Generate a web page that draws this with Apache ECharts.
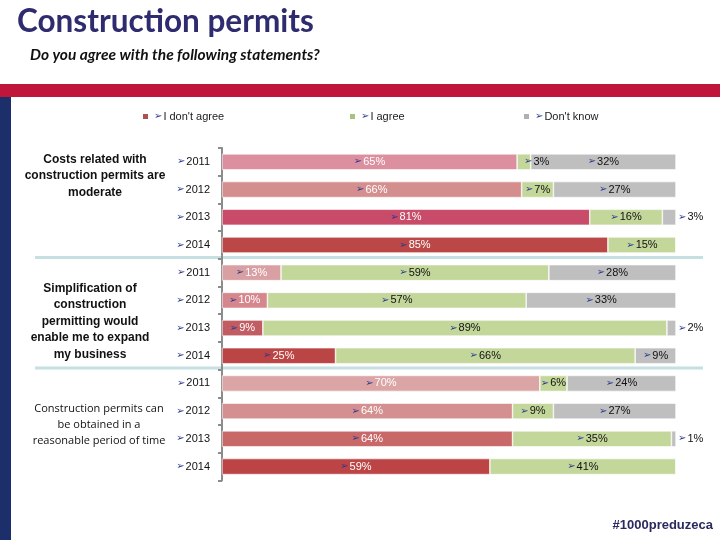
<!DOCTYPE html>
<html>
<head>
<meta charset="utf-8">
<script src="https://cdn.jsdelivr.net/npm/echarts@6/dist/echarts.min.js"></script>
<style>html,body{margin:0;padding:0;background:#fff}#c{width:720px;height:540px}</style>
</head>
<body>
<div id="c"></div>
<script>
const years = ['2011', '2012', '2013', '2014'];
const statements = [
  'Costs related with\nconstruction permits are\nmoderate',
  'Simplification of\nconstruction\npermitting would\nenable me to expand\nmy business',
  'Construction permits can\nbe obtained in a\nreasonable period of time'
];
const seriesNames = ["I don't agree", 'I agree', "Don't know"];
// values per statement group, per year
const disagree1 = [65, 66, 81, 85];
const agree1    = [3, 7, 16, 15];
const dontKnow1 = [32, 27, 3, 0];
const disagree2 = [13, 10, 9, 25];
const agree2    = [59, 57, 89, 66];
const dontKnow2 = [28, 33, 2, 9];
const disagree3 = [70, 64, 64, 59];
const agree3    = [6, 9, 35, 41];
const dontKnow3 = [24, 27, 1, 0];

const groups = [
  [disagree1, agree1, dontKnow1],
  [disagree2, agree2, dontKnow2],
  [disagree3, agree3, dontKnow3]
];

// styling (not data)
const redShades = [
  ['#dc8f9f', '#d48e8e', '#c84b69', '#bb4747'],
  ['#d9a0a3', '#d6878d', '#c05c62', '#bb4444'],
  ['#dba5a5', '#d49090', '#c86868', '#bc4444']
];
const baseColors = ['#b05050', '#c4d79b', '#bfbfbf'];
const legendColors = ['#b05050', '#aac280', '#b0b0b0'];
const FONT = 'Liberation Sans, DejaVu Sans, sans-serif';
const ARROW = '#2b3990';
const arrowRich = {color: ARROW, fontSize: 10, fontFamily: 'DejaVu Sans', padding: [0, 1, 0, 0]};

const gridTop = 148, gridH = 110.8;
const grids = [], xAxes = [], yAxes = [], series = [];
groups.forEach((g, gi) => {
  grids.push({left: 222, width: 454, top: gridTop + gi * gridH, height: gridH});
  xAxes.push({type: 'value', gridIndex: gi, min: 0, max: 100, show: false});
  yAxes.push({
    type: 'category', gridIndex: gi, data: years, inverse: true,
    axisLine: {show: true, lineStyle: {color: '#8c8c8c', width: 2}},
    axisTick: {show: true, length: 4, lineStyle: {color: '#8c8c8c', width: 2}},
    axisLabel: {
      margin: 12,
      formatter: v => '{a|➢}{b|' + v + '}',
      rich: {
        a: arrowRich,
        b: {color: '#111', fontSize: 11, fontFamily: FONT}
      }
    }
  });
  g.forEach((vals, si) => {
    const data = vals.map((v, i) => {
      const item = {value: v};
      if (si === 0) item.itemStyle = {color: redShades[gi][i]};
      const lbl = {};
      if (v === 0) lbl.show = false;
      else if (si === 2 && v < 5) { lbl.position = 'right'; lbl.distance = 2; }
      else if (si === 1 && v < 5) { lbl.position = 'insideLeft'; lbl.distance = 7; }
      item.label = lbl;
      return item;
    });
    series.push({
      name: seriesNames[si], type: 'bar', stack: 'g' + gi,
      xAxisIndex: gi, yAxisIndex: gi, barWidth: 16,
      itemStyle: {color: baseColors[si], borderColor: '#ffffff', borderWidth: 0.6},
      label: {
        show: true, position: 'inside',
        formatter: p => '{a|➢}{b|' + p.value + '%}',
        rich: {
          a: arrowRich,
          b: {color: si === 0 ? '#ffffff' : '#111111', fontSize: 11, fontFamily: FONT}
        }
      },
      emphasis: {disabled: true},
      data: data
    });
  });
});

const legendX = [136, 343, 517];
const legends = seriesNames.map((n, i) => ({
  data: [{name: n, itemStyle: {color: legendColors[i]}}],
  left: legendX[i], top: 106,
  itemWidth: 7, itemHeight: 7, itemGap: 4,
  icon: 'rect',
  formatter: t => '{a|➢}{b|' + t + '}',
  textStyle: {
    rich: {
      a: arrowRich,
      b: {color: '#222', fontSize: 11, fontFamily: FONT}
    }
  },
  selectedMode: false
}));

const chart = echarts.init(document.getElementById('c'), null, {renderer: 'canvas'});
chart.setOption({
  animation: false,
  backgroundColor: '#ffffff',
  grid: grids, xAxis: xAxes, yAxis: yAxes, series: series,
  legend: legends,
  graphic: [
    {type: 'rect', shape: {x: 0, y: 84, width: 720, height: 13}, style: {fill: '#c0163c'}, z: -1},
    {type: 'rect', shape: {x: 0, y: 97, width: 11, height: 443}, style: {fill: '#1c2f6a'}, z: -1},
    {type: 'rect', shape: {x: 35, y: 256, width: 668, height: 3}, style: {fill: '#c5dfe2'}, z: -1},
    {type: 'rect', shape: {x: 35, y: 366.5, width: 668, height: 3}, style: {fill: '#c5dfe2'}, z: -1},
    {type: 'text', left: 17, top: 6, style: {text: 'Construction permits', fill: '#2e2b6e', font: 'bold 31.5px Lato, sans-serif'}},
    {type: 'text', left: 30, top: 47, style: {text: 'Do you agree with the following statements?', fill: '#111', font: 'italic bold 15.5px Lato, sans-serif'}},
    {type: 'text', x: 95, y: 151, style: {text: statements[0], fill: '#111', font: 'bold 12px ' + FONT, align: 'center', lineHeight: 16.5}},
    {type: 'text', x: 90, y: 280, style: {text: statements[1], fill: '#111', font: 'bold 12px ' + FONT, align: 'center', lineHeight: 16.5}},
    {type: 'text', x: 99, y: 401, style: {text: statements[2], fill: '#111', font: '11px Open Sans, sans-serif', align: 'center', lineHeight: 16}},
    {type: 'text', right: 7, top: 519, style: {text: '#1000preduzeca', fill: '#2a2a5e', font: 'bold 13px ' + FONT}}
  ]
});
</script>
</body>
</html>
